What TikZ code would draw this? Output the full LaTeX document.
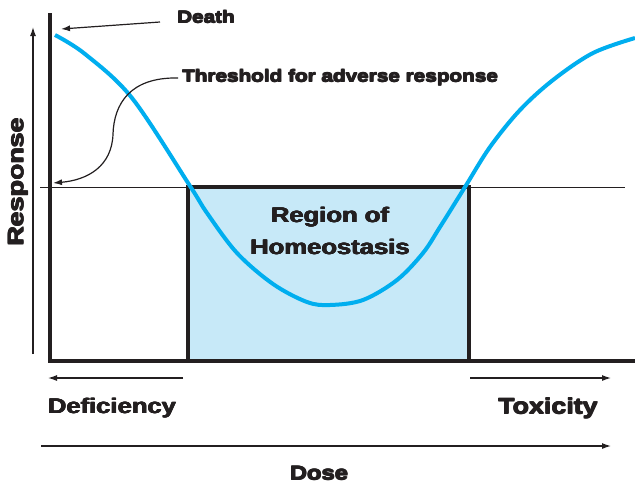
\documentclass[tikz,border=0pt]{standalone}
\usepackage{fontspec}
\setmainfont{Liberation Sans}
\newfontfamily\heavy{Liberation Sans}[FakeStretch=1.22]
\usetikzlibrary{arrows.meta}
\definecolor{ink}{HTML}{231F20}
\definecolor{curveblue}{HTML}{00AEEF}
\definecolor{zonefill}{HTML}{C7E9F8}
% heavier glyphs: the text is overprinted with small offsets
\newcommand\heavytext[1]{\leavevmode
  \rlap{\kern-0.4pt\raise0.4pt\hbox{#1}}%
  \rlap{\kern0.4pt\raise0.4pt\hbox{#1}}%
  \rlap{\kern-0.4pt\lower0.4pt\hbox{#1}}%
  \rlap{\kern0.4pt\lower0.4pt\hbox{#1}}%
  \hbox{#1}}
\tikzset{
  label/.style={font=\heavy\bfseries\fontsize{#1}{#1}\selectfont, text=ink, inner sep=0pt},
  label/.default=21,
  pointer/.style={draw=ink, line width=1.2pt, -{Latex[length=9pt,width=6pt]}},
  axis/.style={draw=ink, line width=4pt},
}
\begin{document}
\begin{tikzpicture}[x=1pt, y=-1pt]
\useasboundingbox (0,0) rectangle (635,488);
\fill[white] (0,0) rectangle (635,488);

% homeostasis zone
\node[fill=zonefill, minimum width=281pt, minimum height=174pt, inner sep=0pt, anchor=north west] (zone) at (188,187) {};

% threshold level
\draw[ink, line width=1pt] (40,187) -- (625,187);

% axes
\coordinate (ytop) at (50,15);
\coordinate (origin) at (50,361);
\coordinate (xend) at (635,361);
\draw[axis, line cap=rect] (ytop) -- (origin) -- (xend);

% zone border
\draw[axis] (zone.south west) -- (zone.north west) -- (zone.north east) -- (zone.south east);

% response curve
\draw[curveblue, line width=4pt] plot[smooth, tension=0.55] coordinates {
  (55,35) (85,54) (132,98) (190,186) (207,213) (237,253)
  (273,284) (307,302) (330,305) (363,300) (397,280) (423,253) (440,227)
  (465,187) (490,147) (520,110) (553,80) (593,53) (635,38)};

% response axis arrow
\coordinate (rbot) at (33,354);
\coordinate (rtop) at (33,27);
\draw[pointer] (rbot) -- (rtop);
\node[label=22, rotate=90] (resp) at (18,182) {\heavytext{Response}};

% labels with pointers
\node[label=17, anchor=west] (death) at (177,17) {\heavytext{Death}};
\coordinate (dstart) at (160,22);
\coordinate (deathtip) at (61,29);
\draw[pointer] (dstart) -- (deathtip);

\node[label=17, anchor=west] (thr) at (182,78) {\heavytext{Threshold for adverse response}};
\coordinate (thrtip) at (53,183);
\draw[pointer] ([xshift=-4pt]thr.west) .. controls (130,77) and (114,104) .. (113,134)
  .. controls (112,166) and (88,180) .. (thrtip);

\node[label=21, align=center] (zonetext) at (330,231) {\heavytext{Region of}\\[11pt]\heavytext{Homeostasis}};

% dose direction arrows
\coordinate (defR) at (183,378);
\coordinate (defL) at (48,378);
\draw[pointer] (defR) -- (defL);
\node[label=21] (def) at (112,408) {\heavytext{Deficiency}};

\coordinate (toxL) at (470,378);
\coordinate (toxR) at (611,378);
\draw[pointer] (toxL) -- (toxR);
\node[label=22] (tox) at (548,408) {\heavytext{Toxicity}};

\coordinate (doseL) at (41,446);
\coordinate (doseR) at (611,446);
\draw[pointer] (doseL) -- (doseR);
\node[label=19.5] (dose) at (319,473) {\heavytext{Dose}};
\end{tikzpicture}
\end{document}
